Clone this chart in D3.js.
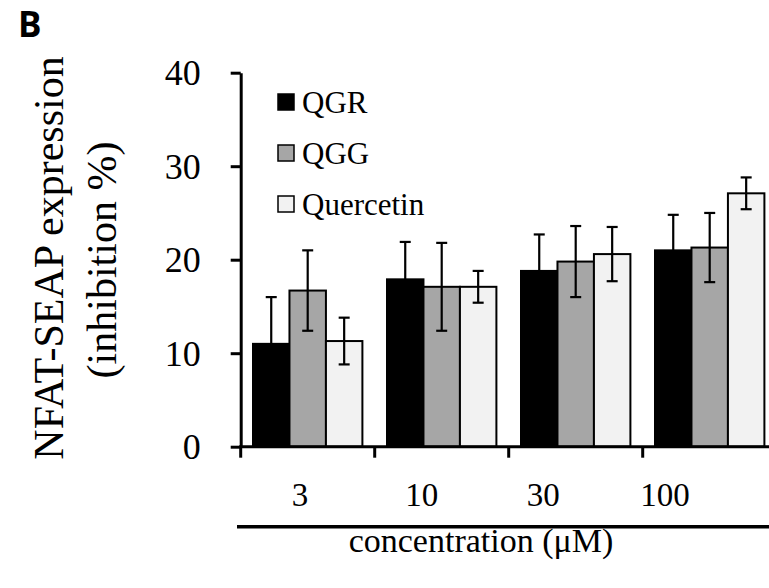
<!DOCTYPE html>
<html>
<head>
<meta charset="utf-8">
<script src="https://cdn.jsdelivr.net/npm/d3@7"></script>
<style>
  body { margin: 0; background: #fff; }
  svg text { font-family: "Liberation Serif", "Times New Roman", serif; fill: #000; }
</style>
</head>
<body>
<svg id="chart" width="769" height="588"></svg>
<script>
// data
const categories = ["3", "10", "30", "100"];
const seriesNames = ["QGR", "QGG", "Quercetin"];
const seriesColors = ["#000000", "#a6a6a6", "#f2f2f2"];
const qgrValues = [11.0, 17.9, 18.8, 21.0];
const qgrErrors = [5.0, 4.0, 3.9, 3.8];
const qggValues = [16.7, 17.1, 19.8, 21.3];
const qggErrors = [4.3, 4.7, 3.8, 3.7];
const quercetinValues = [11.3, 17.1, 20.6, 27.1];
const quercetinErrors = [2.5, 1.7, 2.9, 1.7];
const yTicks = [0, 10, 20, 30, 40];

const svg = d3.select("#chart");

const values = [qgrValues, qggValues, quercetinValues];
const errors = [qgrErrors, qggErrors, quercetinErrors];

// scales
const y = d3.scaleLinear().domain([0, 40]).range([446.7, 72.7]);
const x0 = d3.scaleBand().domain(categories).range([240.7, 776.7]).padding(0);
const x1 = d3.scaleBand().domain(seriesNames).range([12.3, 121.7]).padding(0);
// tick labels sit a little left of the group centres in the original
const xLabel = d3.scalePoint().domain(categories).range([300, 665]);

// bars
const groups = svg.selectAll("g.group")
    .data(categories)
    .enter().append("g")
    .attr("class", "group")
    .attr("transform", d => `translate(${x0(d)},0)`);

groups.each(function (cat, ci) {
    const g = d3.select(this);
    seriesNames.forEach((s, si) => {
        g.append("rect")
            .attr("x", x1(s))
            .attr("y", y(values[si][ci]))
            .attr("width", x1.bandwidth())
            .attr("height", y(0) - y(values[si][ci]))
            .attr("fill", seriesColors[si])
            .attr("stroke", "#000")
            .attr("stroke-width", 2);
    });
    // error bars on top
    seriesNames.forEach((s, si) => {
        const cx = x1(s) + x1.bandwidth() / 2;
        const hi = y(values[si][ci] + errors[si][ci]);
        const lo = y(values[si][ci] - errors[si][ci]);
        g.append("line").attr("x1", cx).attr("x2", cx).attr("y1", hi).attr("y2", lo)
            .attr("stroke", "#000").attr("stroke-width", 2.2);
        [hi, lo].forEach(v => {
            g.append("line").attr("x1", cx - 5.5).attr("x2", cx + 5.5).attr("y1", v).attr("y2", v)
                .attr("stroke", "#000").attr("stroke-width", 2.2);
        });
    });
});

// y axis
const yAxis = svg.append("g")
    .attr("transform", `translate(${x0.range()[0]},0)`)
    .call(d3.axisLeft(y).tickValues(yTicks).tickSize(10).tickSizeOuter(0).tickPadding(30));
yAxis.select(".domain").attr("stroke-width", 3);
yAxis.selectAll(".tick line").attr("stroke-width", 3);
yAxis.selectAll(".tick text")
    .attr("font-family", "Liberation Serif")
    .attr("font-size", 36)
    .attr("dy", "0.34em");

// x axis: baseline with ticks at category boundaries
const bounds = categories.map(c => x0(c)).concat([x0(categories[categories.length - 1]) + x0.step()]);
svg.append("line")
    .attr("x1", x0.range()[0] - 1.5).attr("x2", x0.range()[1])
    .attr("y1", y(0)).attr("y2", y(0))
    .attr("stroke", "#000").attr("stroke-width", 3);
svg.selectAll("line.xtick")
    .data(bounds)
    .enter().append("line")
    .attr("class", "xtick")
    .attr("x1", d => d).attr("x2", d => d)
    .attr("y1", y(0)).attr("y2", y(0) + 11)
    .attr("stroke", "#000").attr("stroke-width", 3);

svg.selectAll("text.xlab")
    .data(categories)
    .enter().append("text")
    .attr("class", "xlab")
    .attr("x", d => xLabel(d))
    .attr("y", 506)
    .attr("text-anchor", "middle")
    .attr("font-size", 33)
    .text(d => d);

// bracket line under the tick labels
svg.append("line")
    .attr("x1", 237).attr("x2", 769)
    .attr("y1", 526.7).attr("y2", 526.7)
    .attr("stroke", "#000").attr("stroke-width", 3.5);

svg.append("text")
    .attr("x", 481)
    .attr("y", 552)
    .attr("text-anchor", "middle")
    .attr("font-size", 34)
    .text("concentration (\u03bcM)");

// y axis title
svg.append("text")
    .attr("transform", "translate(63,258) rotate(-90)")
    .attr("text-anchor", "middle")
    .attr("font-size", 42)
    .text("NFAT-SEAP expression");
svg.append("text")
    .attr("transform", "translate(116,260) rotate(-90)")
    .attr("text-anchor", "middle")
    .attr("font-size", 42)
    .text("(inhibition %)");

// legend
const legend = svg.selectAll("g.legend")
    .data(seriesNames)
    .enter().append("g")
    .attr("class", "legend")
    .attr("transform", (d, i) => `translate(278,${[113, 164, 215][i]})`);
legend.append("rect")
    .attr("x", 0).attr("y", -19)
    .attr("width", 16).attr("height", 16)
    .attr("fill", (d, i) => seriesColors[i])
    .attr("stroke", "#000").attr("stroke-width", 1.5);
legend.append("text")
    .attr("x", 24).attr("y", 0)
    .attr("font-size", 31)
    .text(d => d);

// panel letter
svg.append("text")
    .attr("x", 18).attr("y", 37)
    .attr("font-weight", "bold")
    .attr("font-size", 35)
    .style("font-family", "'Open Sans', 'Liberation Sans', sans-serif")
    .text("B");
</script>
</body>
</html>
